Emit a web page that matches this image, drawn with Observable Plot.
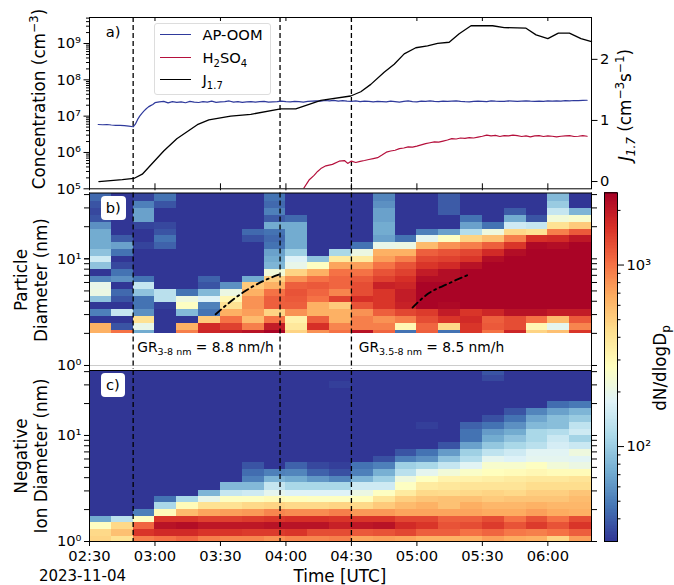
<!DOCTYPE html>
<html>
<head>
<meta charset="utf-8">
<script src="https://cdn.jsdelivr.net/npm/d3@7"></script>
<script src="https://cdn.jsdelivr.net/npm/@observablehq/plot@0.6"></script>
<style>
  html, body { margin: 0; padding: 0; background: #fff; }
  #wrap { position: relative; width: 674px; height: 585px; overflow: hidden; font-family: "DejaVu Sans", sans-serif; color: #000; }
  #wrap svg { position: absolute; left: 0; top: 0; background: transparent; }
  .lab { position: absolute; white-space: nowrap; line-height: 1.2; text-align: center; transform: translate(-50%, -50%); }
  .rot { transform: translate(-50%, -50%) rotate(-90deg); }
  .box { position: absolute; background: #fff; border-radius: 4px; text-align: center; font-size: 14.7px; }
  sub, sup { line-height: 0; }
  .sw { position: absolute; left: 5px; width: 31px; height: 1.4px; }
  .lt { position: absolute; left: 47.5px; font-size: 14.7px; white-space: nowrap; }
</style>
</head>
<body>
<div id="wrap"></div>
<script>
// ---------- time axis (minutes after midnight UTC) ----------
const startMinute = 150, endMinute = 380, binMinutes = 10;
const tickMinutes = [150, 180, 210, 240, 270, 300, 330, 360];
const eventMinutes = [170, 237.3, 270];

// ---------- panel a: concentrations and J1.7 ----------
const apHeadMinutes = [154,156,158,160,162,164,166,168,170,171,172,173,174,175,176,177,178,179];
const apHeadValues = [5.9e6,5.8e6,5.9e6,5.7e6,5.6e6,5.6e6,5.5e6,5.3e6,5.1e6,6e6,8e6,1e7,1.2e7,1.4e7,1.6e7,1.8e7,1.95e7,2.1e7];
const apTailStart = 180, apTailStep = 2;
const apTailMillions = [
 23.5,24.8,25.6,23.2,25.2,24.0,24.8,23.4,25.4,24.2,23.8,25.0,24.4,25.8,24.0,24.6,25.0,26.2,24.4,25.0,
 24.0,24.6,25.2,24.4,25.0,25.6,24.2,24.6,25.0,26.0,25.0,24.6,25.6,25.0,24.4,25.4,26.0,26.4,25.8,27.0,
 26.4,27.2,26.0,26.6,26.0,25.6,26.2,25.0,26.0,25.4,24.8,25.6,25.2,24.6,25.8,25.2,24.4,25.6,26.2,25.2,
 24.8,25.8,25.4,26.2,25.6,25.2,26.0,25.4,25.8,26.2,25.4,25.0,24.8,25.6,26.0,25.6,25.2,26.4,25.8,25.4,
 25.6,26.2,25.8,25.4,26.0,26.4,25.8,25.6,26.0,25.6,26.2,25.8,26.4,26.0,26.6,26.2,27.0,26.6,27.2,27.4];

const h2HeadMinutes = [248,250.6,252.9,254.5,256,258.3,261.3,264.4,266.8,268.3];
const h2HeadValues = [1e5,1.74e5,2.34e5,3e5,3.6e5,4.3e5,4.7e5,5.75e5,6e5,5e5];
const h2TailStart = 270, h2TailStep = 2;
const h2TailMillions = [
 0.58,0.53,0.57,0.6,0.64,0.68,0.72,0.85,1.02,1.1,1.15,1.28,1.33,1.42,1.4,1.5,1.62,1.75,1.85,1.95,
 1.92,2.05,2.2,2.4,2.35,2.5,2.45,2.55,2.5,2.65,2.8,3.0,2.85,2.95,2.75,2.9,2.85,3.0,2.9,2.75,
 2.85,2.7,2.85,2.9,2.75,2.85,2.8,2.7,2.8,2.85,2.9,2.75,2.8,2.9,2.8];

const jMinutes = [154.3,165,170.3,174.2,184,190,199.4,204.7,214.7,223.9,237.6,244.5,256,269.7,274.3,278.9,285,289.6,294.2,299.5,304.9,309.5,314.8,319.4,324.8,334.7,340,350,354.6,360,364.8,369.9,375.2,380];
const jValues = [0,0.03,0.05,0.12,0.5,0.7,0.93,1.01,1.07,1.1,1.19,1.19,1.33,1.4,1.47,1.59,1.79,1.92,2.09,2.19,2.22,2.26,2.28,2.42,2.55,2.55,2.52,2.51,2.4,2.34,2.43,2.43,2.34,2.29];

// ---------- panel b: particle size distribution (dN/dlogDp) ----------
const particleEdges = [2,2.15,2.5,2.91,3.34,3.89,4.47,5.13,5.97,6.9,7.91,9.22,10.6,12.2,14.2,16.4,19,22,25.4,29.4,34.2,41.4];
// one list per 10-minute column, lowest size bin first
const particleColumns = [
 [644,644,30,51,30,90,207,198,53,30,90,152,90,72,72,72,58,37,34,37,43],
 [1000,37,30,140,30,37,43,30,58,46,34,30,46,66,39,30,30,30,30,30,30],
 [72,198,416,58,46,46,90,140,46,30,30,30,30,33,30,30,33,66,66,51,33],
 [30,30,30,30,32,128,128,30,30,30,30,30,30,41,46,37,34,30,30,37,46],
 [913,644,30,82,268,215,46,30,30,30,30,30,30,30,30,30,30,30,30,30,30],
 [1765,1690,518,46,51,173,82,37,41,30,30,30,30,30,30,30,30,30,30,30,30],
 [1930,1420,1000,644,416,305,207,58,30,30,30,30,30,30,30,30,30,30,30,30,30],
 [2105,913,591,735,800,800,644,518,72,30,30,30,30,30,36,43,30,30,30,30,30],
 [2400,1930,1000,475,1140,1140,1000,644,496,225,79,72,66,46,43,46,72,39,51,43,46],
 [475,381,334,800,1140,1190,1245,1140,800,475,198,173,103,72,72,72,72,43,30,30,30],
 [800,1620,1140,644,644,1000,1090,1190,1000,644,268,90,30,30,30,30,30,30,30,30,30],
 [1000,874,644,644,518,1420,874,1090,1090,1000,703,365,112,30,30,30,30,30,30,30,30],
 [2105,913,913,800,1245,1620,1300,1300,1190,1000,735,365,207,46,30,30,30,30,30,30,30],
 [1090,913,800,1140,1549,1549,1549,1845,1420,1245,1000,735,644,198,66,72,72,66,66,58,53],
 [46,305,913,1360,1845,1930,1930,1765,1620,1420,1245,913,644,207,46,30,30,30,30,30,30],
 [1140,1090,1300,1485,2400,2400,2400,2400,2200,1930,1549,1360,1140,591,189,51,30,30,30,30,30],
 [46,454,1549,1930,2300,2400,2400,2400,2200,2200,1690,1420,1245,800,268,66,30,30,39,39,39],
 [1549,1549,1690,1549,2400,2400,2400,2400,2400,2400,2105,1549,1360,913,475,122,66,46,30,30,30],
 [1000,1190,1140,1765,2400,2400,2400,2400,2400,2400,2400,2200,1690,1140,566,215,46,30,30,30,30],
 [1765,1300,1300,2105,2400,2400,2400,2400,2400,2400,2400,2400,2200,1549,913,454,152,72,39,30,30],
 [475,305,1000,2105,2400,2400,2400,2400,2400,2400,2400,2400,2400,2300,1620,416,140,37,30,30,30],
 [566,189,591,1930,2400,2400,2400,2400,2400,2400,2400,2400,2400,2200,1690,913,416,225,140,98,82],
 [1549,874,1190,1930,2400,2400,2400,2400,2400,2400,2400,2400,2400,2400,2015,1190,518,246,79,30,30]
];
const growthAMinutes = [207.8,213.2,220.8,230,237.6];
const growthADiameters = [3.02,3.76,4.91,6.24,7.2];
const growthBMinutes = [298,304.9,314,324.4];
const growthBDiameters = [3.49,4.67,5.8,7.2];

// ---------- panel c: negative ions (dN/dlogDp) ----------
const ionEdges = [1,1.11,1.3,1.51,1.72,2,2.31,2.65,3.06,3.59,4.08,4.75,5.53,6.4,7.38,8.53,9.93,11.5,13.2,15.3,17.8,20.7,23.9,27.7,32,36.9,41];
const ionFloor = 30; // bins above the end of a list sit at the bottom of the colour scale
const ionColumns = [
 [475,454,268,72],
 [416,566,454,128],
 [913,1549,1090,268,51],
 [1000,1690,2105,1549,290,112,46],
 [1090,1690,2200,1549,591,290,112],
 [913,1549,2015,1420,703,416,198,79],
 [874,1549,2015,1420,735,416,268,140,82],
 [874,1485,2015,1485,767,454,268,152,82,51,44,37],
 [800,1485,2105,1549,874,475,290,189,140,79,51],
 [874,1549,2105,1620,835,454,279,173,112,72,53,41],
 [874,1300,2105,1620,835,454,268,173,112,61,41,34],
 [913,1300,1845,1549,913,475,268,173,112,53,36,32,30,30,30,30,30,30,30,30,30,30,30,32],
 [703,1190,2015,1549,767,454,279,207,152,79,51,46],
 [735,1245,2105,1549,767,518,397,268,152,103,75,51,36],
 [703,1360,1690,1360,703,591,496,365,268,215,128,103,51,37],
 [644,1140,1549,1360,703,640,540,450,365,270,189,112,58,46,30,30,30,32],
 [644,1140,1245,1140,703,560,560,440,385,325,225,140,90,63,37],
 [644,1000,1300,1140,703,660,560,455,400,330,256,181,122,103,66,46,46,41],
 [735,1090,1485,1300,672,610,520,475,400,345,279,246,189,134,94,72,63,46,36,30,30,30,30,30,34,37],
 [672,956,1245,1000,672,610,540,455,400,365,290,246,173,152,112,90,72,58,46,37],
 [644,913,1485,1245,735,640,540,495,435,380,305,268,189,181,128,112,112,82,69,53],
 [475,1000,1245,1000,672,610,540,495,435,380,290,225,189,181,160,146,122,86,86,66,44],
 [735,1140,1549,1300,644,610,585,540,435,400,290,207,181,215,146,107,152,134,98,79,48]
];

// ---------- scales shared by the panels ----------
const colorMin = 30, colorMax = 2500;
const colorStops = ["#313695","#4575b4","#74add1","#abd9e9","#e0f3f8","#ffffbf","#fee090","#fdae61","#f46d43","#d73027","#a50026"];
const t = m => new Date(Date.UTC(2023, 10, 4, 0, m, (m % 1) * 60));
const xDomain = [t(startMinute), t(endMinute)];
const xTicks = tickMinutes.map(t);
const timeFormat = d3.utcFormat("%H:%M");
const supDigits = "⁰¹²³⁴⁵⁶⁷⁸⁹";
const pow10 = d => "10" + supDigits[Math.round(Math.log10(d))];
const color = {type: "log", interpolate: d3.piecewise(d3.interpolateRgb, colorStops), domain: [colorMin, colorMax], clamp: true};
const W = 674, H = 585, left = 89, right = 83;
const font = {fontFamily: "DejaVu Sans", fontSize: "14.7px", background: "transparent", overflow: "visible"};
const wrap = document.getElementById("wrap");

const decade = (k, from = 1, to = 9) => d3.range(from, to + 1).map(i => i * 10 ** k);
const eventRules = () => Plot.ruleX(eventMinutes.map(t), {stroke: "#000", strokeWidth: 1.3, strokeDasharray: "5 3"});
const cells = (columns, edges) => columns.flatMap((col, i) =>
  edges.slice(0, -1).map((e, j) => ({
    x1: t(startMinute + binMinutes * i),
    x2: t(startMinute + binMinutes * (i + 1)),
    y1: e, y2: edges[j + 1], v: col[j] ?? ionFloor
  })));
const cellMark = (columns, edges) => Plot.rect(cells(columns, edges),
  {x1: "x1", x2: "x2", y1: "y1", y2: "y2", fill: "v", inset: 0, shapeRendering: "crispEdges"});
const frame = () => Plot.frame({stroke: "#000", strokeWidth: 1});
const pts = (ms, vs) => ms.map((m, i) => ({x: t(m), y: vs[i]}));

// ---------- panel a ----------
const apPoints = pts(apHeadMinutes, apHeadValues).concat(apTailMillions.map((v, i) => ({x: t(apTailStart + apTailStep * i), y: v * 1e6})));
const h2Points = pts(h2HeadMinutes, h2HeadValues).concat(h2TailMillions.map((v, i) => ({x: t(h2TailStart + h2TailStep * i), y: v * 1e6})));
const jPoints = pts(jMinutes, jValues);
const concMinor = [5, 6, 7, 8, 9].flatMap(k => decade(k, 2, 9)).filter(v => v < 5.2e9);
const concMajor = [1e5, 1e6, 1e7, 1e8, 1e9];

wrap.append(Plot.plot({
  width: W, height: H, marginLeft: left, marginRight: right, marginTop: 17, marginBottom: H - 188.3,
  style: font,
  x: {type: "utc", domain: xDomain, axis: null},
  y: {type: "log", domain: [1e5, 5.2e9], axis: null},
  marks: [
    Plot.axisY(concMinor, {anchor: "left", fill: "none", tickSize: 3, label: null}),
    Plot.axisY(concMajor, {anchor: "left", tickSize: 5.5, tickPadding: 3, tickFormat: pow10, label: null}),
    Plot.axisX(xTicks, {anchor: "top", fill: "none", tickSize: -3, label: null}),
    Plot.axisX(xTicks, {anchor: "bottom", fill: "none", tickSize: 2, label: null}),
    Plot.axisX(xTicks, {anchor: "bottom", fill: "none", tickSize: -5, label: null}),
    eventRules(),
    Plot.line(apPoints, {x: "x", y: "y", stroke: "#2f3a9c", strokeWidth: 1.2}),
    Plot.line(h2Points, {x: "x", y: "y", stroke: "#b5103c", strokeWidth: 1.2, clip: true}),
    frame()
  ]
}));
wrap.append(Plot.plot({
  width: W, height: H, marginLeft: left, marginRight: right, marginTop: 17, marginBottom: H - 188.3,
  style: font,
  x: {type: "utc", domain: xDomain, axis: null},
  y: {domain: [-0.119, 2.685], axis: null},
  marks: [
    Plot.axisY([0, 1, 2], {anchor: "right", tickSize: 5.5, tickPadding: 3, tickFormat: d3.format("d"), label: null}),
    Plot.line(jPoints, {x: "x", y: "y", stroke: "#000", strokeWidth: 1.3})
  ]
}));

// ---------- panel b ----------
const sizeTicks = [...decade(0), ...decade(1, 1, 4)];
wrap.append(Plot.plot({
  width: W, height: H, marginLeft: left, marginRight: right, marginTop: 192.5, marginBottom: H - 369,
  style: font,
  color,
  x: {type: "utc", domain: xDomain, axis: null},
  y: {type: "log", domain: [0.917, 41.4], axis: null},
  marks: [
    cellMark(particleColumns, particleEdges),
    Plot.ruleY([1], {stroke: "#ccc", strokeWidth: 1}),
    Plot.axisY(sizeTicks, {anchor: "left", fill: "none", tickSize: 5, label: null}),
    Plot.axisY(sizeTicks, {anchor: "right", fill: "none", tickSize: 5, label: null}),
    Plot.axisY([1, 10], {anchor: "left", tickSize: 5, tickPadding: 3, tickFormat: pow10, label: null}),
    eventRules(),
    Plot.line(pts(growthAMinutes, growthADiameters), {x: "x", y: "y", stroke: "#000", strokeWidth: 1.9, strokeDasharray: "7 4 2 4", curve: "monotone-x"}),
    Plot.line(pts(growthBMinutes, growthBDiameters), {x: "x", y: "y", stroke: "#000", strokeWidth: 1.9, strokeDasharray: "7 4 2 4", curve: "monotone-x"}),
    Plot.frame({anchor: "top", stroke: "#000", strokeWidth: 1}),
    Plot.frame({anchor: "left", stroke: "#000", strokeWidth: 1}),
    Plot.frame({anchor: "right", stroke: "#000", strokeWidth: 1})
  ]
}));

// ---------- panel c ----------
wrap.append(Plot.plot({
  width: W, height: H, marginLeft: left, marginRight: right, marginTop: 370, marginBottom: H - 541,
  style: font,
  color,
  x: {type: "utc", domain: xDomain, axis: null},
  y: {type: "log", domain: [1, 41], axis: null},
  marks: [
    cellMark(ionColumns, ionEdges),
    Plot.axisY(sizeTicks, {anchor: "left", fill: "none", tickSize: 5, label: null}),
    Plot.axisY(sizeTicks, {anchor: "right", fill: "none", tickSize: 5, label: null}),
    Plot.axisY([1, 10], {anchor: "left", tickSize: 5, tickPadding: 3, tickFormat: pow10, label: null}),
    Plot.axisX(xTicks, {anchor: "bottom", tickSize: 5, tickPadding: 4, tickFormat: timeFormat, label: null}),
    eventRules(),
    frame()
  ]
}));

// ---------- colour bar ----------
const barSteps = d3.range(0, 240);
const barEdge = i => colorMin * (colorMax / colorMin) ** (i / 240);
wrap.append(Plot.plot({
  width: W, height: H, marginLeft: 604, marginRight: W - 617, marginTop: 192.3, marginBottom: H - 541,
  style: font,
  color,
  x: {domain: [0, 1], axis: null},
  y: {type: "log", domain: [colorMin, colorMax], axis: null},
  marks: [
    Plot.rect(barSteps, {x1: 0, x2: 1, y1: i => barEdge(i), y2: i => barEdge(i + 1), fill: i => barEdge(i + 0.5), inset: 0, shapeRendering: "crispEdges"}),
    Plot.axisY([...decade(1, 4, 9), ...decade(2, 2, 9), 2000], {anchor: "right", fill: "none", tickSize: 2.5, label: null}),
    Plot.axisY([100, 1000], {anchor: "right", tickSize: 6, tickPadding: 3, tickFormat: pow10, label: null}),
    frame()
  ]
}));

// ---------- text placed around the panels ----------
function label(html, x, y, size, rot) {
  const d = document.createElement("div");
  d.className = "lab" + (rot ? " rot" : "");
  d.style.left = x + "px"; d.style.top = y + "px"; d.style.fontSize = size + "px";
  d.innerHTML = html;
  wrap.append(d);
  return d;
}
const s = "style='font-size:12px'";
label(`Concentration (cm<sup ${s}>−3</sup>)`, 39, 99, 16.8, true);
label("Particle<br>Diameter (nm)", 30.5, 280, 16.8, true);
label("Negative<br>Ion Diameter (nm)", 30.5, 456, 16.8, true);
label(`<i>J</i><sub ${s}><i>1.7</i></sub> (cm<sup ${s}>−3</sup>s<sup ${s}>−1</sup>)`, 625, 104.5, 16.8, true);
label(`dN/dlogD<sub ${s}>p</sub>`, 660, 368, 16.8, true);
label("Time [UTC]", 340, 576, 16.8);
label("2023-11-04", 82.5, 576, 15);
label("a)", 113, 32, 14.7);

label("GR<sub style='font-size:9.5px'>3-8 nm</sub> = 8.8 nm/h", 205.5, 347, 13.8);
label("GR<sub style='font-size:9.5px'>3.5-8 nm</sub> = 8.5 nm/h", 431.5, 347, 13.8);

for (const [txt, x, y, w, h] of [["b)", 100.7, 196, 25.3, 24], ["c)", 100.7, 372.7, 24.5, 24.3]]) {
  const b = document.createElement("div");
  b.className = "box";
  b.textContent = txt;
  b.style.cssText = `left:${x}px;top:${y}px;width:${w}px;height:${h}px;line-height:${h}px`;
  wrap.append(b);
}

// legend
const legend = document.createElement("div");
legend.style.cssText = "position:absolute;left:154px;top:22.5px;width:115px;height:70px;background:rgba(255,255,255,0.85);border:1px solid #ddd;border-radius:3px;";
legend.innerHTML = `
  <div class="sw" style="top:10.5px;background:#2f3a9c"></div><div class="lt" style="top:2px">AP-OOM</div>
  <div class="sw" style="top:33px;background:#b5103c"></div><div class="lt" style="top:25px">H<sub style="font-size:10px">2</sub>SO<sub style="font-size:10px">4</sub></div>
  <div class="sw" style="top:55.5px;background:#000"></div><div class="lt" style="top:47px">J<sub style="font-size:10px">1.7</sub></div>`;
wrap.append(legend);
</script>
</body>
</html>
